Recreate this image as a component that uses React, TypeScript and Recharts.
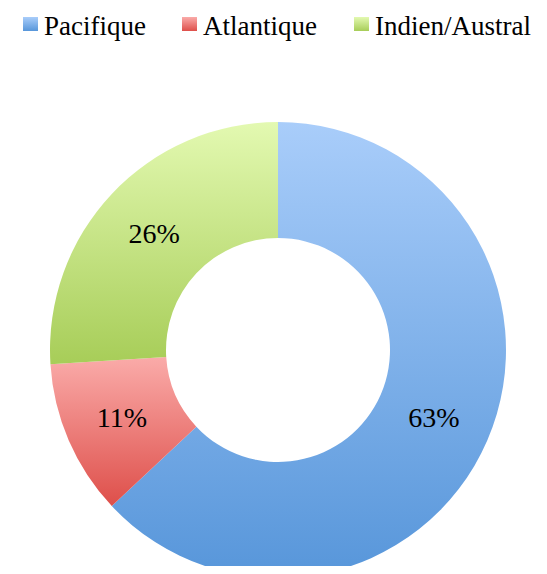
import React from "react";
import { PieChart, Pie, Cell, Legend } from "recharts";

const categories = ["Pacifique", "Atlantique", "Indien/Austral"];
const values = [63, 11, 26];
const labels = ["63%", "11%", "26%"];
const gradTop = ["#a9cdfa", "#faaba9", "#e3f9b1"];
const gradBottom = ["#5796da", "#de4f4a", "#a7cd58"];
const legendX = [23, 182, 354];

const data = categories.map((name, i) => ({ name, value: values[i], label: labels[i] }));

const FONT = "'Liberation Serif', serif";
const RAD = Math.PI / 180;
const LEGEND_H = 46;

const renderLabel = (props: any) => {
  const { cx, cy, midAngle, innerRadius, outerRadius, index } = props;
  const r = (innerRadius + outerRadius) / 2;
  const x = cx + r * Math.cos(-midAngle * RAD);
  const y = cy + r * Math.sin(-midAngle * RAD);
  return (
    <text x={x} y={y} textAnchor="middle" dominantBaseline="central" fontFamily={FONT} fontSize={28} fill="#000">
      {data[index].label}
    </text>
  );
};

const LegendContent = () => (
  <div style={{ position: "relative", width: 547, height: LEGEND_H, fontFamily: FONT, fontSize: 27, color: "#000" }}>
    {data.map((d, i) => (
      <React.Fragment key={d.name}>
        <span
          style={{
            position: "absolute",
            left: legendX[i],
            top: 17,
            width: 15,
            height: 14,
            background: `linear-gradient(${gradTop[i]}, ${gradBottom[i]})`,
          }}
        />
        <span style={{ position: "absolute", left: legendX[i] + 21, top: 11, lineHeight: "31px", whiteSpace: "nowrap" }}>
          {d.name}
        </span>
      </React.Fragment>
    ))}
  </div>
);

export default function App() {
  return (
    <div style={{ margin: -8, width: 547, height: 574, background: "#fff", position: "relative" }}>
      <PieChart width={547} height={574} margin={{ top: 0, right: 0, bottom: 0, left: 0 }}>
        <defs>
          {data.map((d, i) => (
            <linearGradient key={i} id={`g${i}`} x1="0" y1="0" x2="0" y2="1">
              <stop offset="0%" stopColor={gradTop[i]} />
              <stop offset="100%" stopColor={gradBottom[i]} />
            </linearGradient>
          ))}
        </defs>
        <Legend
          verticalAlign="top"
          align="left"
          content={<LegendContent />}
          wrapperStyle={{ position: "absolute", top: 0, left: 0, width: 547, height: LEGEND_H }}
        />
        <Pie
          data={data}
          dataKey="value"
          nameKey="name"
          cx={278}
          cy={350 - LEGEND_H}
          innerRadius={112}
          outerRadius={228}
          startAngle={90}
          endAngle={-270}
          stroke="none"
          label={renderLabel}
          labelLine={false}
          isAnimationActive={false}
        >
          {data.map((d, i) => (
            <Cell key={i} fill={`url(#g${i})`} />
          ))}
        </Pie>
      </PieChart>
    </div>
  );
}
